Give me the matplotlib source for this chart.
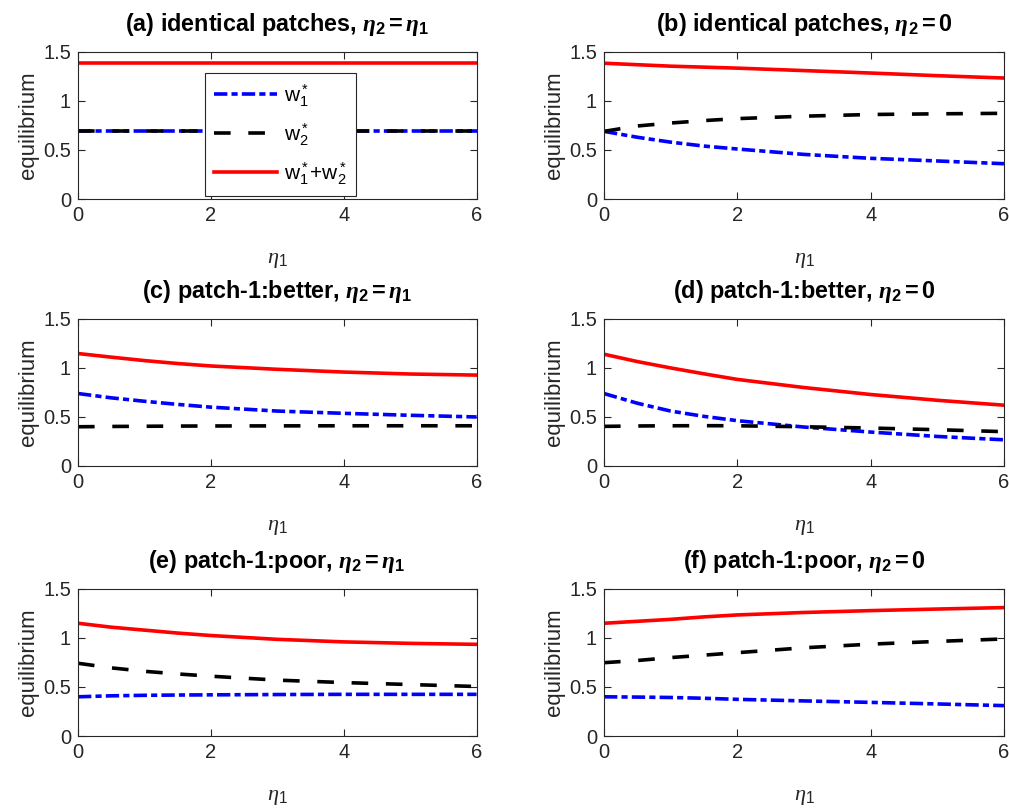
import matplotlib
matplotlib.use("Agg")
import matplotlib.pyplot as plt

plt.rcParams['font.family'] = ['Liberation Sans', 'DejaVu Sans']
plt.rcParams['mathtext.fontset'] = 'custom'
plt.rcParams['mathtext.rm'] = 'Liberation Sans'
plt.rcParams['mathtext.it'] = 'Liberation Serif:italic'
plt.rcParams['mathtext.bf'] = 'Liberation Sans:bold'
plt.rcParams['mathtext.bfit'] = 'Liberation Serif:italic:bold'

# eta_1 sample points
eta = [0, 0.5, 1, 1.5, 2, 3, 4, 5, 6]

# (a) identical patches, eta2 = eta1
a_w1 = [0.693] * 9
a_w2 = [0.693] * 9
a_sum = [1.386] * 9

# (b) identical patches, eta2 = 0
b_w1 = [0.69, 0.63, 0.58, 0.54, 0.51, 0.455, 0.415, 0.388, 0.36]
b_w2 = [0.69, 0.745, 0.775, 0.80, 0.82, 0.845, 0.862, 0.869, 0.874]
b_sum = [1.385, 1.37, 1.355, 1.345, 1.335, 1.31, 1.285, 1.258, 1.234]

# (c) patch-1 better, eta2 = eta1
c_w1 = [0.739, 0.695, 0.66, 0.628, 0.60, 0.56, 0.537, 0.517, 0.50]
c_w2 = [0.40, 0.403, 0.405, 0.407, 0.408, 0.409, 0.41, 0.41, 0.41]
c_sum = [1.147, 1.11, 1.075, 1.045, 1.02, 0.986, 0.958, 0.938, 0.927]

# (d) patch-1 better, eta2 = 0
d_w1 = [0.739, 0.64, 0.56, 0.506, 0.462, 0.397, 0.346, 0.301, 0.267]
d_w2 = [0.404, 0.408, 0.41, 0.411, 0.41, 0.40, 0.387, 0.37, 0.35]
d_sum = [1.14, 1.065, 1.0, 0.94, 0.883, 0.80, 0.729, 0.67, 0.62]

# (e) patch-1 poor, eta2 = eta1
e_w1 = [0.40, 0.41, 0.415, 0.418, 0.42, 0.423, 0.425, 0.425, 0.425]
e_w2 = [0.742, 0.695, 0.66, 0.633, 0.61, 0.57, 0.545, 0.525, 0.505]
e_sum = [1.15, 1.11, 1.08, 1.05, 1.025, 0.986, 0.96, 0.945, 0.935]

# (f) patch-1 poor, eta2 = 0
f_w1 = [0.40, 0.397, 0.393, 0.385, 0.374, 0.358, 0.343, 0.327, 0.31]
f_w2 = [0.748, 0.77, 0.80, 0.825, 0.85, 0.90, 0.937, 0.965, 0.99]
f_sum = [1.15, 1.17, 1.19, 1.215, 1.235, 1.26, 1.279, 1.295, 1.31]

e2e1 = r"$\mathbfit{\eta}_\mathbf{2}\mathbf{=}\mathbfit{\eta}_\mathbf{1}$"
e20 = r"$\mathbfit{\eta}_\mathbf{2}\mathbf{=0}$"
titles = ["(a) identical patches, " + e2e1,
          "(b) identical patches, " + e20,
          "(c) patch-1:better, " + e2e1,
          "(d) patch-1:better, " + e20,
          "(e) patch-1:poor, " + e2e1,
          "(f) patch-1:poor, " + e20]
data = [(a_w1, a_w2, a_sum), (b_w1, b_w2, b_sum), (c_w1, c_w2, c_sum),
        (d_w1, d_w2, d_sum), (e_w1, e_w2, e_sum), (f_w1, f_w2, f_sum)]

fig = plt.figure(figsize=(10.09, 8.08), dpi=100)

lefts = [0.0773, 0.5986]
widths = [0.395, 0.3964]
bottoms = [0.7537, 0.4233, 0.0891]
height = 0.182
gray = '#262626'

for k in range(6):
    r, c = divmod(k, 2)
    ax = fig.add_axes([lefts[c], bottoms[r], widths[c], height])
    w1, w2, s = data[k]
    ax.plot(eta, w1, color='blue', lw=2.6, linestyle=(0, (3.7, 1.15, 1.7, 1.15)),
            label=r"$\mathrm{w}_1^*$")
    ax.plot(eta, w2, color='black', lw=2.6, linestyle=(0, (4.6, 4.9)),
            label=r"$\mathrm{w}_2^*$")
    ax.plot(eta, s, color='red', lw=2.6, label=r"$\mathrm{w}_1^*\mathrm{+w}_2^*$")
    ax.set_xlim(0, 6)
    ax.set_ylim(0, 1.5)
    ax.set_xticks([0, 2, 4, 6])
    ax.set_yticks([0, 0.5, 1, 1.5])
    ax.set_yticklabels(['0', '0.5', '1', '1.5'])
    ax.tick_params(direction='in', top=True, right=True, labelsize=14.5,
                   colors=gray, length=5, width=0.8, pad=5)
    for sp in ax.spines.values():
        sp.set_color(gray)
        sp.set_linewidth(0.8)
    ax.set_xlabel(r"$\eta_\mathrm{1}$", fontsize=16, labelpad=17, color=gray)
    ax.set_ylabel("equilibrium", fontsize=16, color=gray, labelpad=3)
    ax.set_title(titles[k], fontsize=16.8, fontweight='bold', pad=15)
    if k == 0:
        leg = ax.legend(loc='upper left', bbox_to_anchor=(0.318, 0.86),
                        fontsize=15, handlelength=3.0, labelspacing=0.6,
                        fancybox=False, edgecolor=gray, framealpha=1,
                        borderpad=0.45, borderaxespad=0, handletextpad=0.35)
        leg.get_frame().set_linewidth(0.8)

plt.savefig("out.png", dpi=100)
